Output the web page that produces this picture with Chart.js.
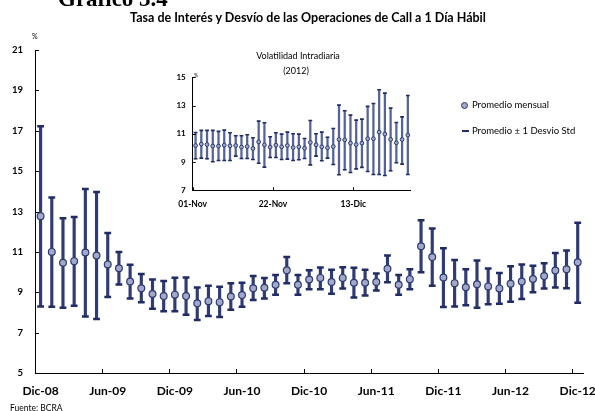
<!DOCTYPE html>
<html>
<head>
<meta charset="utf-8">
<script src="https://cdn.jsdelivr.net/npm/chart.js@4.4.0/dist/chart.umd.min.js"></script>
<style>
  body { margin: 0; background: #fff; }
  #wrap { position: relative; width: 595px; height: 411px; overflow: hidden; font-family: Lato, sans-serif; color: #000; }
  #wrap canvas { position: absolute; left: 0; top: 0; }
  .t { position: absolute; white-space: nowrap; line-height: 1; }
</style>
</head>
<body>
<div id="wrap">
  <canvas id="main" width="595" height="411"></canvas>
  <canvas id="inset" width="595" height="411"></canvas>

  <div class="t" style="left:58px;top:-14px;font:bold 23px 'Liberation Serif',serif;">Gráfico 3.4</div>
  <div class="t" style="left:0;width:616px;text-align:center;top:12px;font-weight:bold;font-size:12.5px;">Tasa de Interés y Desvío de las Operaciones de Call a 1 Día Hábil</div>
  <div class="t" style="left:32px;top:33px;font-size:7px;">%</div>

  <div class="t" style="left:198px;width:200px;text-align:center;top:50.5px;font-size:9px;">Volatilidad Intradiaria</div>
  <div class="t" style="left:196px;width:200px;text-align:center;top:65.5px;font-size:9px;">(2012)</div>
  <div class="t" style="left:194px;top:72.5px;font-size:5px;">%</div>

  <div style="position:absolute;left:461px;top:102px;width:7px;height:7px;box-sizing:border-box;border:1.2px solid #2b3a74;border-radius:50%;background:#a2a8c8;"></div>
  <div class="t" style="left:472px;top:100.3px;font-size:9.5px;">Promedio mensual</div>
  <div style="position:absolute;left:461.5px;top:129.5px;width:7.5px;height:2.5px;background:#1f2c66;"></div>
  <div class="t" style="left:472px;top:125.8px;font-size:9.5px;">Promedio ± 1 Desvio Std</div>

  <div class="t" style="left:10px;top:403.5px;font-size:8.5px;">Fuente: BCRA</div>
</div>

<script>
// ---- datos: promedio mensual y banda de +/- 1 desvio (tasa call, %)
const meses = [
  'Dic-08', 'Ene-09', 'Feb-09', 'Mar-09', 'Abr-09', 'May-09', 'Jun-09', 'Jul-09', 'Ago-09', 'Sep-09', 'Oct-09', 'Nov-09',
  'Dic-09', 'Ene-10', 'Feb-10', 'Mar-10', 'Abr-10', 'May-10', 'Jun-10', 'Jul-10', 'Ago-10', 'Sep-10', 'Oct-10', 'Nov-10',
  'Dic-10', 'Ene-11', 'Feb-11', 'Mar-11', 'Abr-11', 'May-11', 'Jun-11', 'Jul-11', 'Ago-11', 'Sep-11', 'Oct-11', 'Nov-11',
  'Dic-11', 'Ene-12', 'Feb-12', 'Mar-12', 'Abr-12', 'May-12', 'Jun-12', 'Jul-12', 'Ago-12', 'Sep-12', 'Oct-12', 'Nov-12',
  'Dic-12'
];
const promedio = [
  12.77, 11.00, 10.46, 10.54, 10.97, 10.82, 10.38, 10.19, 9.53, 9.20, 8.91, 8.81,
  8.88, 8.81, 8.45, 8.56, 8.51, 8.79, 8.86, 9.20, 9.22, 9.37, 10.09, 9.37,
  9.63, 9.71, 9.51, 9.71, 9.47, 9.47, 9.51, 10.16, 9.37, 9.65, 11.28, 10.74,
  9.73, 9.45, 9.25, 9.40, 9.29, 9.19, 9.42, 9.53, 9.66, 9.80, 10.08, 10.14,
  10.48
];
const desvioSup = [
  17.22, 13.69, 12.67, 12.73, 14.12, 13.96, 11.94, 11.00, 10.36, 9.91, 9.63, 9.56,
  9.72, 9.73, 9.24, 9.32, 9.27, 9.44, 9.47, 9.80, 9.71, 9.85, 10.74, 9.85,
  10.09, 10.23, 10.11, 10.24, 10.21, 10.11, 9.93, 10.82, 9.86, 10.14, 12.57, 12.16,
  11.18, 10.60, 10.14, 10.57, 10.18, 9.95, 10.29, 10.38, 10.31, 10.44, 10.95, 11.07,
  12.44
];
const desvioInf = [
  8.30, 8.28, 8.23, 8.33, 7.80, 7.68, 8.77, 9.39, 8.69, 8.50, 8.18, 8.06,
  8.06, 7.88, 7.63, 7.82, 7.78, 8.13, 8.28, 8.61, 8.69, 8.87, 9.44, 8.87,
  9.15, 9.15, 8.92, 9.19, 8.74, 8.84, 9.09, 9.50, 8.87, 9.15, 9.99, 9.32,
  8.27, 8.30, 8.36, 8.23, 8.41, 8.43, 8.53, 8.67, 9.00, 9.19, 9.24, 9.20,
  8.48
];

// ---- recuadro: volatilidad intradiaria 2012 (dias habiles)
const dias = [
  '01-Nov', '02-Nov', '05-Nov', '06-Nov', '07-Nov', '08-Nov', '09-Nov', '12-Nov', '13-Nov', '14-Nov',
  '15-Nov', '16-Nov', '19-Nov', '21-Nov', '22-Nov', '23-Nov', '27-Nov', '28-Nov', '29-Nov', '30-Nov',
  '03-Dic', '04-Dic', '05-Dic', '06-Dic', '07-Dic', '10-Dic', '11-Dic', '12-Dic', '13-Dic', '14-Dic',
  '17-Dic', '18-Dic', '19-Dic', '20-Dic', '21-Dic', '26-Dic', '27-Dic', '28-Dic'
];
const diaProm = [
  10.17, 10.27, 10.24, 10.13, 10.13, 10.20, 10.15, 10.17, 10.06, 10.10,
  9.96, 10.43, 10.22, 10.06, 10.20, 10.08, 10.17, 10.03, 10.08, 9.98,
  10.39, 10.22, 10.08, 10.01, 10.10, 10.60, 10.57, 10.34, 10.24, 10.34,
  10.65, 10.65, 11.12, 10.98, 10.60, 10.36, 10.60, 10.91
];
const diaSup = [
  11.09, 11.24, 11.24, 11.24, 11.17, 11.26, 11.07, 10.86, 10.86, 10.93,
  10.72, 11.90, 11.78, 10.79, 11.07, 10.98, 11.12, 11.00, 10.98, 10.67,
  11.94, 11.00, 11.12, 10.76, 11.38, 13.03, 12.63, 12.32, 11.97, 12.04,
  12.94, 13.15, 14.12, 13.88, 12.82, 11.80, 12.20, 13.71
];
const diaInf = [
  9.23, 9.28, 9.23, 9.02, 9.11, 9.11, 9.11, 9.42, 9.25, 9.25,
  9.18, 8.92, 8.64, 9.32, 9.32, 9.18, 9.21, 9.11, 9.16, 9.25,
  8.80, 9.42, 9.09, 9.28, 8.83, 8.10, 8.45, 8.26, 8.52, 8.62,
  8.33, 8.12, 8.12, 8.05, 8.38, 8.95, 8.85, 8.12
];

// marcas de eje hacia adentro (como en el original)
const marcasAdentro = {
  id: 'marcasAdentro',
  afterDraw(chart, args, opts) {
    const { ctx, chartArea } = chart;
    const sx = chart.scales.x, sy = chart.scales.y;
    const n = chart.data.labels.length;
    const half = (sx.getPixelForValue(1) - sx.getPixelForValue(0)) / 2;
    ctx.save();
    ctx.strokeStyle = '#000';
    ctx.lineWidth = 1;
    ctx.beginPath();
    for (let i = 0; i < n; i += opts.cada) {
      const px = Math.round(sx.getPixelForValue(i) - half) + 0.5;
      ctx.moveTo(px, chartArea.bottom);
      ctx.lineTo(px, chartArea.bottom - opts.largo);
    }
    sy.ticks.forEach(t => {
      const py = Math.round(sy.getPixelForValue(t.value)) + 0.5;
      ctx.moveTo(chartArea.left, py);
      ctx.lineTo(chartArea.left + opts.largo, py);
    });
    ctx.stroke();
    ctx.restore();
  }
};

function grafico(id, cfg) {
  const ctx = document.getElementById(id).getContext('2d');
  return new Chart(ctx, {
    type: 'bar',
    data: {
      labels: cfg.labels,
      datasets: [
        {
          type: 'line', data: cfg.prom, showLine: false, order: 0,
          pointStyle: 'circle', pointRadius: cfg.r, pointBorderWidth: cfg.rb,
          pointBackgroundColor: '#a2a8c8', pointBorderColor: '#2b3a74'
        },
        {
          type: 'line', data: cfg.sup, showLine: false, order: 1,
          pointStyle: 'line', pointRadius: cfg.cap, pointBorderWidth: cfg.capW,
          pointBorderColor: '#1f2c66'
        },
        {
          type: 'line', data: cfg.inf, showLine: false, order: 1,
          pointStyle: 'line', pointRadius: cfg.cap, pointBorderWidth: cfg.capW,
          pointBorderColor: '#1f2c66'
        },
        {
          type: 'bar', order: 2,
          data: cfg.inf.map((v, i) => [v, cfg.sup[i]]),
          backgroundColor: cfg.barColor, barThickness: cfg.barW
        }
      ]
    },
    options: {
      responsive: false,
      animation: false,
      events: [],
      layout: { padding: cfg.pad },
      plugins: {
        legend: { display: false },
        tooltip: { enabled: false },
        marcasAdentro: { cada: cfg.cada, largo: cfg.largo }
      },
      scales: {
        x: {
          type: 'category',
          offset: true,
          grid: { display: false, drawTicks: false, offset: true },
          border: { display: true, color: '#000', width: 1 },
          ticks: {
            autoSkip: false, maxRotation: 0, minRotation: 0,
            padding: cfg.xPad, labelOffset: cfg.xOff, color: '#000',
            font: { family: 'Lato', size: cfg.xFont, weight: 'bold' },
            callback(v, i) { return i % cfg.cada === 0 ? this.getLabelForValue(v) : null; }
          },
          afterFit(s) { s.height = cfg.xH; s.paddingLeft = 0; s.paddingRight = 0; }
        },
        y: {
          min: cfg.ymin, max: cfg.ymax,
          grid: { display: false, drawTicks: false },
          border: { display: true, color: '#000', width: 1 },
          ticks: {
            stepSize: 2, padding: cfg.yPad, color: '#000',
            font: { family: 'Lato', size: cfg.yFont, weight: 'bold' }
          },
          afterFit(s) { s.width = cfg.yW; s.paddingTop = 0; s.paddingBottom = 0; }
        }
      }
    },
    plugins: [marcasAdentro]
  });
}

grafico('main', {
  labels: meses, prom: promedio, sup: desvioSup, inf: desvioInf,
  r: 3.4, rb: 1.2, cap: 3.4, capW: 2.5, barW: 2.5, barColor: '#2e3b74',
  pad: { left: 0, top: 50, right: 11.7, bottom: 0 },
  cada: 6, largo: 4, xPad: 11, xOff: 0, xFont: 12, xH: 38,
  ymin: 5, ymax: 21, yPad: 12, yFont: 9.5, yW: 35
});

grafico('inset', {
  labels: dias, prom: diaProm, sup: diaSup, inf: diaInf,
  r: 1.9, rb: 1, cap: 1.9, capW: 1.6, barW: 1.6, barColor: '#56639a',
  pad: { left: 162.7, top: 77.3, right: 184.3, bottom: 195.7 },
  cada: 14, largo: 3, xPad: 9, xOff: -2.9, xFont: 8.5, xH: 25,
  ymin: 7, ymax: 15, yPad: 7, yFont: 8, yW: 30
});
</script>
</body>
</html>
